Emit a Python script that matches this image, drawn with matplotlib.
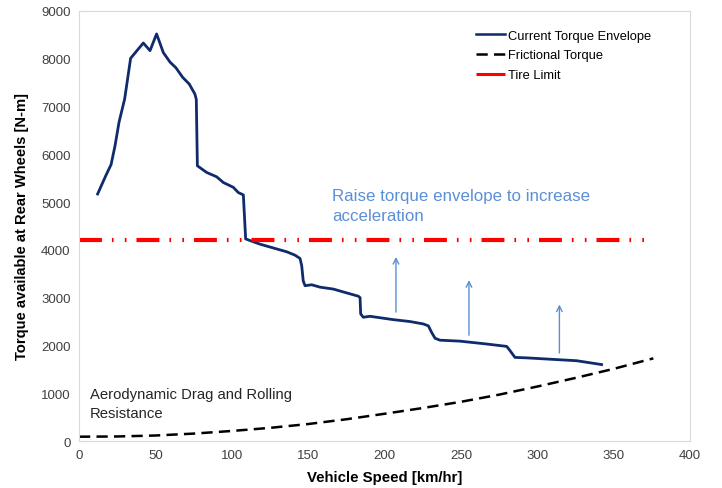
import matplotlib
matplotlib.use('Agg')
from matplotlib import pyplot as plt

plt.rcParams['font.family'] = ['Liberation Sans', 'DejaVu Sans']

# current torque envelope (speed km/hr, torque N-m)
env_speed = [12.2, 17.5, 21.0, 23.6, 26.2, 29.9, 33.8, 42.1, 46.5, 50.8, 55.2, 59.6,
             63.5, 67.9, 72.2, 75.9, 76.8, 77.5, 83.6, 90.1, 94.5, 101.0, 104.3, 107.6,
             109.1, 114.1, 118.5, 129.4, 136.0, 141.4, 144.7, 145.8, 146.8, 148.0,
             152.3, 157.8, 166.5, 173.0, 179.6, 182.9, 184.0, 184.4, 186.1, 190.5,
             205.8, 216.7, 225.4, 228.7, 230.9, 233.1, 236.3, 249.4, 266.9, 280.0,
             282.2, 285.4, 293.1, 314.9, 325.8, 342.1]
env_torque = [5170, 5550, 5785, 6180, 6670, 7160, 8010, 8330, 8170, 8520, 8130, 7930,
              7810, 7610, 7470, 7260, 7150, 5760, 5620, 5530, 5410, 5310, 5200, 5150,
              4230, 4170, 4120, 4020, 3960, 3890, 3820, 3670, 3350, 3250,
              3270, 3220, 3180, 3120, 3060, 3030, 3000, 2660, 2590, 2610,
              2540, 2500, 2450, 2410, 2270, 2150, 2110, 2090, 2030, 1980,
              1890, 1750, 1740, 1700, 1680, 1600]

# frictional torque (aero drag + rolling resistance)
fric_speed = [0, 25, 50, 75, 100, 125, 150, 175, 200, 225, 250, 275, 300, 325, 350, 376]
fric_torque = [90, 95, 115, 155, 210, 275, 355, 455, 570, 690, 820, 970, 1140, 1320, 1510, 1730]

tire_speed = [0, 375]
tire_torque = [4200, 4200]

# arrows: (speed, from torque, to torque)
arrow_speed = [207.5, 255.3, 314.5]
arrow_from = [2640, 2155, 1785]
arrow_to = [3910, 3425, 2915]

fig = plt.figure(figsize=(7.22, 4.89), dpi=100)
ax = fig.add_axes([0.1094, 0.0961, 0.8463, 0.8794])

ax.plot(env_speed, env_torque, color='#0f2b6b', lw=2.0, label='Current Torque Envelope',
        solid_joinstyle='round')
ax.plot(fric_speed, fric_torque, color='black', lw=1.8, dashes=(4.5, 2.5), label='Frictional Torque')
ax.plot(tire_speed, tire_torque, color='#ff0000', lw=3, dashes=(5.5, 2.4, 0.4, 2.7, 0.4, 2.4),
        label='Tire Limit')

for s, a, b in zip(arrow_speed, arrow_from, arrow_to):
    ax.annotate('', xy=(s, b), xytext=(s, a),
                arrowprops=dict(arrowstyle='->', color='#5b8fd0', lw=1.0))

ax.text(165.6, 5290, 'Raise torque envelope to increase\nacceleration', color='#5b8fd6',
        fontsize=12.2, va='top', ha='left', linespacing=1.42)
ax.text(7.2, 1130, 'Aerodynamic Drag and Rolling\nResistance', color='#262626',
        fontsize=10.7, va='top', ha='left', linespacing=1.48)

ax.set_xlim(0, 400)
ax.set_ylim(0, 9000)
ax.set_xticks(range(0, 401, 50))
ax.set_yticks(range(0, 9001, 1000))
ax.tick_params(length=0, labelsize=9.5, colors='#404040', pad=6)
for sp in ax.spines.values():
    sp.set_color('#d9d9d9')
ax.set_xlabel('Vehicle Speed [km/hr]', fontsize=10.8, fontweight='bold', labelpad=6)
ax.set_ylabel('Torque available at Rear Wheels [N-m]', fontsize=10.6, fontweight='bold', labelpad=9)

leg = ax.legend(loc='upper left', frameon=False, fontsize=9.3, handlelength=2.3, handletextpad=0.2,
                borderaxespad=0.0, borderpad=0.0, labelspacing=0.6, bbox_to_anchor=(0.649, 0.957))
for ln, w in zip(leg.get_lines(), [1.8, 1.8, 2.2]):
    ln.set_linewidth(w)
leg.get_lines()[2].set_dashes((1, 0))

fig.savefig('out.png', dpi=100)
